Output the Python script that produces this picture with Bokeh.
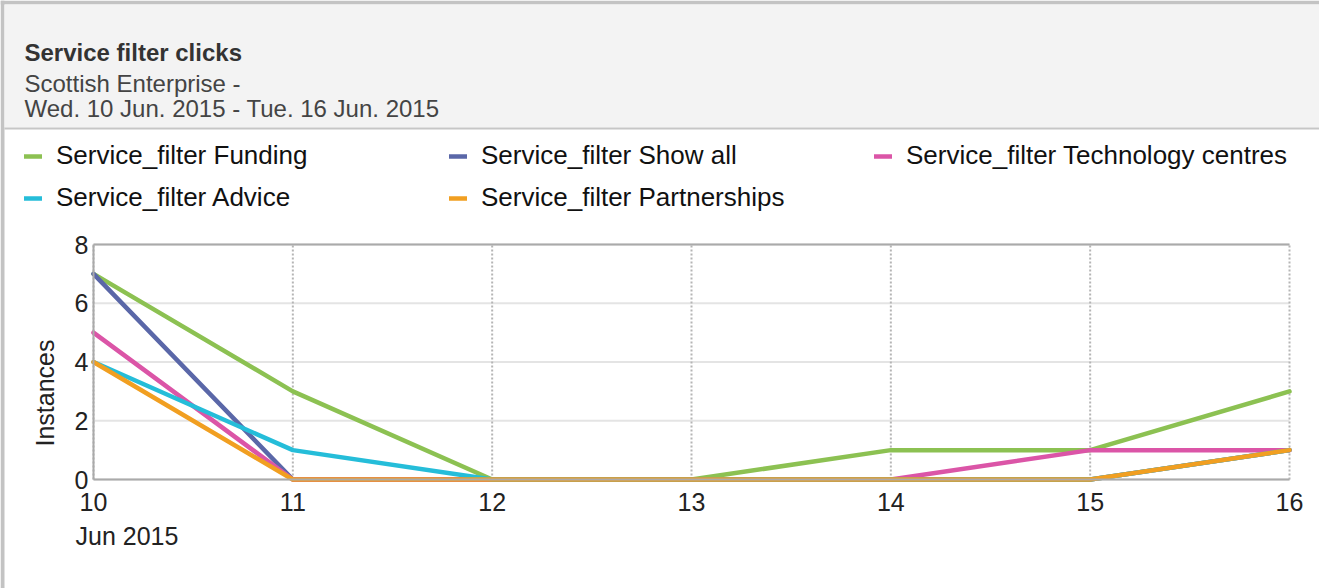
import math
from bokeh.plotting import figure
from bokeh.models import Range1d, FixedTicker, Legend, LegendItem
from bokeh.core.properties import value
from bokeh.embed import file_html
from bokeh.resources import INLINE

# ---------------- data ----------------
title_text = "Service filter clicks"
subtitle_lines = ["Scottish Enterprise -", "Wed. 10 Jun. 2015 - Tue. 16 Jun. 2015"]

days = [10, 11, 12, 13, 14, 15, 16]
day_labels = ["10", "11", "12", "13", "14", "15", "16"]
month_label = "Jun 2015"

series_names = [
    "Service_filter Funding",
    "Service_filter Show all",
    "Service_filter Technology centres",
    "Service_filter Advice",
    "Service_filter Partnerships",
]
funding = [7, 3, 0, 0, 1, 1, 3]
show_all = [7, 0, 0, 0, 0, 0, 1]
technology_centres = [5, 0, 0, 0, 0, 1, 1]
advice = [4, 1, 0, 0, 0, 0, 1]
partnerships = [4, 0, 0, 0, 0, 0, 1]
series_values = [funding, show_all, technology_centres, advice, partnerships]
series_colors = ["#8cc152", "#5a67a8", "#db55a7", "#25bdd9", "#f19f21"]

y_ticks = [0, 2, 4, 6, 8]
y_label = "Instances"

# ---------------- layout (page pixels) ----------------
FONT = "Liberation Sans"
W, H = 1319, 588
FL, FR, FT, FB = 93, 1289, 244, 479   # plot area edges

x0, x1 = days[0], days[-1]
y0, y1 = y_ticks[0], y_ticks[-1]
px_per_x = (FR - FL) / (x1 - x0)
px_per_y = (FB - FT) / (y1 - y0)


def xd(px):
    return x0 + (px - FL) / px_per_x


def yd(py):
    return y0 + (FB - py) / px_per_y


p = figure(width=W, height=H, x_range=Range1d(xd(0), xd(W)), y_range=Range1d(yd(H), yd(0)),
           output_backend="svg", toolbar_location=None, min_border=0)
p.outline_line_color = None
p.background_fill_color = "white"
p.border_fill_color = "white"
p.xgrid.visible = False
p.ygrid.visible = False

# ---------------- header panel ----------------
p.quad(left=[xd(0)], right=[xd(4)], top=[yd(0)], bottom=[yd(H)], fill_color="#c3c3c3", line_color=None)
p.quad(left=[xd(0)], right=[xd(W)], top=[yd(0)], bottom=[yd(4)], fill_color="#c3c3c3", line_color=None)
p.quad(left=[xd(4)], right=[xd(W)], top=[yd(4)], bottom=[yd(127)], fill_color="#f3f3f3", line_color=None)
p.quad(left=[xd(4)], right=[xd(W)], top=[yd(127)], bottom=[yd(129)], fill_color="#c6c6c6", line_color=None)

p.text(x=[xd(24)], y=[yd(52)], text=[title_text], text_font=value(FONT), text_font_size="24px",
       text_font_style="bold", text_color="#333333", text_baseline="alphabetic")
p.text(x=[xd(24), xd(24)], y=[yd(83), yd(108)], text=subtitle_lines, text_font=value(FONT),
       text_font_size="24px", text_color="#444444", text_baseline="alphabetic")

# ---------------- grid lines (plot area only) ----------------
p.segment(x0=[x0] * len(y_ticks), x1=[x1] * len(y_ticks), y0=y_ticks, y1=y_ticks,
          line_color="#e4e4e4", line_width=2)
p.segment(x0=days, x1=days, y0=[y0] * len(days), y1=[y1] * len(days),
          line_color="#b5b5b5", line_width=2, line_dash="2 2")
p.segment(x0=[x0], x1=[x1], y0=[y1], y1=[y1], line_color="#aaaaaa", line_width=2)

# ---------------- axes placed at the plot area edges ----------------
p.xaxis.fixed_location = y0
p.yaxis.fixed_location = x0
p.xaxis.bounds = (x0, x1)
p.yaxis.bounds = (y0, y1)
p.xaxis.ticker = FixedTicker(ticks=days)
p.xaxis.major_label_overrides = {d: lab for d, lab in zip(days, day_labels)}
p.yaxis.ticker = FixedTicker(ticks=y_ticks)
for ax in (p.xaxis, p.yaxis):
    ax.axis_line_color = "#aaaaaa"
    ax.axis_line_width = 2
    ax.major_tick_in = 0
    ax.major_tick_out = 0
    ax.minor_tick_in = 0
    ax.minor_tick_out = 0
    ax.major_label_text_font = FONT
    ax.major_label_text_font_size = "25px"
    ax.major_label_text_color = "#222222"
p.xaxis.major_label_standoff = 13
p.yaxis.major_label_standoff = 5

# y-axis title (rotated)
p.text(x=[x0], y=[(y0 + y1) / 2], text=[y_label], angle=math.pi / 2, x_offset=-49, y_offset=31,
       text_font=value(FONT), text_font_size="25px", text_color="#222222",
       text_align="center", text_baseline="middle")

p.text(x=[x0], y=[y0], text=[month_label], x_offset=-18, y_offset=56,
       text_font=value(FONT), text_font_size="25px", text_color="#222222",
       text_baseline="alphabetic")

# ---------------- series ----------------
renderers = []
for vals, col in zip(series_values, series_colors):
    r = p.line(days, vals, line_color=col, line_width=4.5, line_join="round", line_cap="round")
    renderers.append(r)

# ---------------- legend ----------------
items = [LegendItem(label=n, renderers=[r]) for n, r in zip(series_names, renderers)]
legend = Legend(items=items, orientation="horizontal", ncols=3, location=(24, H - 213),
                label_text_font=FONT, label_text_font_size="26px", label_text_color="#111111",
                glyph_width=18, glyph_height=30, label_height=30, label_width=382,
                label_standoff=14, spacing=11, padding=0, margin=0,
                border_line_color=None, background_fill_alpha=0)
p.add_layout(legend, "center")

open("out.html", "w").write(file_html(p, INLINE))
